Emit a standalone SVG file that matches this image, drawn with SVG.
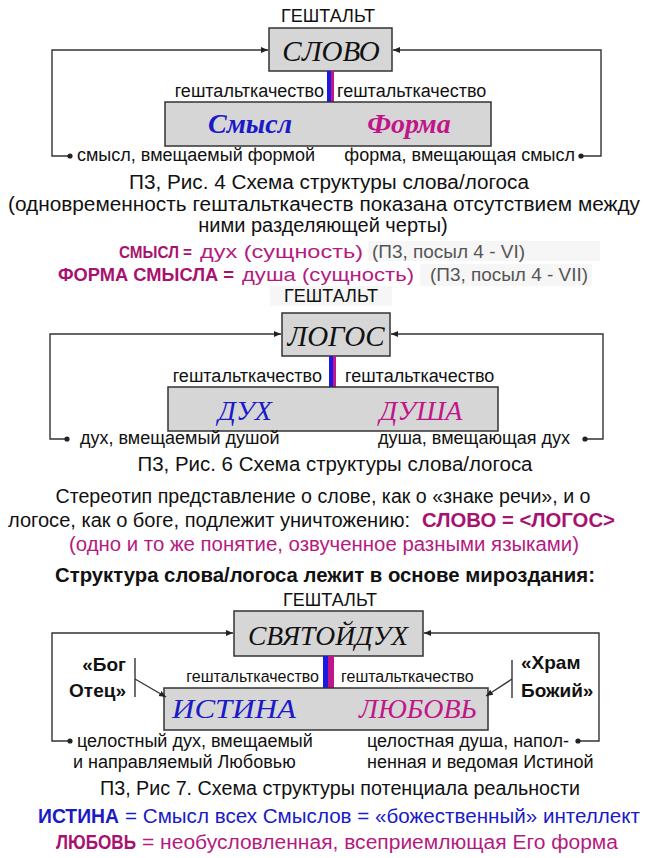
<svg xmlns="http://www.w3.org/2000/svg" width="645" height="858" viewBox="0 0 645 858">
<defs>
<marker id="arr" markerWidth="8" markerHeight="8" refX="7" refY="4" orient="auto" markerUnits="userSpaceOnUse">
<path d="M0,1 L7,4 L0,7 Z" fill="#222"/>
</marker>
<marker id="dot" markerWidth="6" markerHeight="6" refX="3" refY="3" markerUnits="userSpaceOnUse">
<circle cx="3" cy="3" r="2.6" fill="#222"/>
</marker>
</defs>
<style>
.t{font-family:"Liberation Sans",Arial,sans-serif;fill:#111;}
.lab{font-size:18px;}
.cap{font-size:20px;}
.box{fill:#d6d6d6;stroke:#333;stroke-width:1.5;}
.scr{font-family:"Liberation Serif","Times New Roman",serif;font-style:italic;}
.con{fill:none;stroke:#333;stroke-width:1.4;}
.blue{fill:#1a1ac8;}
.blueb{fill:#1a1ac8;font-weight:bold;}
.mag{fill:#c0168a;}
.magb{fill:#a8126f;font-weight:bold;}
.magt{fill:#b51a7f;}
.gray{fill:#555;}
.b{font-weight:bold;}
</style>
<rect width="645" height="858" fill="#fff"/>

<!-- Diagram 1 -->
<g id="gestalt1"><text class="t lab" x="328" y="22" text-anchor="middle">ГЕШТАЛЬТ</text></g>
<g id="node-slovo">
<rect class="box" x="269" y="28" width="123" height="43"/>
<text class="scr" x="331" y="61" font-size="29" text-anchor="middle" fill="#111">СЛОВО</text>
</g>
<g id="bar1"><rect x="327" y="71" width="4" height="31" fill="#1a1ae0"/><rect x="331" y="71" width="3" height="31" fill="#c0168a"/></g>
<g id="gk1">
<text class="t lab" x="324" y="97" text-anchor="end">гештальткачество</text>
<text class="t lab" x="337" y="97">гештальткачество</text>
</g>
<g id="node-smysl-forma">
<rect class="box" x="165" y="102" width="326" height="44"/>
<text class="scr blue b" x="250" y="133" font-size="28" text-anchor="middle">Смысл</text>
<text class="scr mag b" x="409" y="133" font-size="28" text-anchor="middle">Форма</text>
</g>
<g id="conn1-labels">
<text class="t" x="77" y="161" font-size="18" textLength="238" lengthAdjust="spacingAndGlyphs">смысл, вмещаемый формой</text>
<text class="t" x="575" y="161" font-size="18" text-anchor="end">форма, вмещающая смысл</text>
</g>
<g id="connectors1">
<path class="con" d="M70,156 H52 V50 H268" marker-start="url(#dot)" marker-end="url(#arr)"/>
<path class="con" d="M581,156 H601 V50 H393" marker-start="url(#dot)" marker-end="url(#arr)"/>
</g>

<!-- Captions 1 -->
<g id="caption1">
<text class="t cap" x="329" y="189" text-anchor="middle" textLength="400" lengthAdjust="spacingAndGlyphs">П3, Рис. 4 Схема структуры  слова/логоса</text>
<text class="t cap" x="8" y="211" textLength="632" lengthAdjust="spacingAndGlyphs">(одновременность  гештальткачеств   показана отсутствием  между</text>
<text class="t cap" x="323" y="232" text-anchor="middle">ними разделяющей  черты)</text>
<rect x="368" y="241" width="232" height="20" fill="#f6f6f6"/>
<text class="t magb" x="119" y="258" font-size="17" textLength="73" lengthAdjust="spacingAndGlyphs">СМЫСЛ =</text>
<text class="t magt" x="200" y="258" font-size="19" textLength="163" lengthAdjust="spacingAndGlyphs">дух (сущность)</text>
<text class="t gray" x="372" y="258" font-size="19" textLength="153" lengthAdjust="spacingAndGlyphs">(П3, посыл 4 - VI)</text>
<rect x="420" y="264" width="172" height="22" fill="#f6f6f6"/>
<text class="t magb" x="58" y="281" font-size="19" textLength="176" lengthAdjust="spacingAndGlyphs">ФОРМА СМЫСЛА  =</text>
<text class="t magt" x="242" y="281" font-size="19" textLength="172" lengthAdjust="spacingAndGlyphs">душа (сущность)</text>
<text class="t gray" x="430" y="281" font-size="19" textLength="158" lengthAdjust="spacingAndGlyphs">(П3, посыл 4 - VII)</text>
</g>

<!-- Diagram 2 -->
<g id="gestalt2"><rect x="270" y="286" width="122" height="20" fill="#f6f6f6"/><text class="t lab" x="331" y="302" text-anchor="middle">ГЕШТАЛЬТ</text></g>
<g id="node-logos">
<rect class="box" x="282" y="313" width="108" height="43"/>
<text class="scr" x="336" y="346" font-size="29" text-anchor="middle" fill="#111">ЛОГОС</text>
</g>
<g id="bar2"><rect x="329" y="356" width="4" height="31" fill="#1a1ae0"/><rect x="333" y="356" width="3" height="31" fill="#c0168a"/></g>
<g id="gk2">
<text class="t lab" x="322" y="382" text-anchor="end">гештальткачество</text>
<text class="t lab" x="345" y="382">гештальткачество</text>
</g>
<g id="node-duh-dusha">
<rect class="box" x="168" y="387" width="330" height="44"/>
<text class="scr blue" x="245" y="420" font-size="28" text-anchor="middle">ДУХ</text>
<text class="scr mag" x="421" y="420" font-size="28" text-anchor="middle">ДУША</text>
</g>
<g id="conn2-labels">
<text class="t" x="80" y="444" font-size="18">дух, вмещаемый  душой</text>
<text class="t" x="570" y="444" font-size="18" text-anchor="end">душа, вмещающая дух</text>
</g>
<g id="connectors2">
<path class="con" d="M67,439 H50 V334 H281" marker-start="url(#dot)" marker-end="url(#arr)"/>
<path class="con" d="M585,439 H603 V334 H391" marker-start="url(#dot)" marker-end="url(#arr)"/>
</g>
<g id="caption2">
<text class="t cap" x="335" y="471" text-anchor="middle" textLength="395" lengthAdjust="spacingAndGlyphs">П3, Рис. 6 Схема структуры  слова/логоса</text>
</g>

<!-- Middle text -->
<g id="text-mid">
<text class="t cap" x="323" y="503" text-anchor="middle" textLength="535" lengthAdjust="spacingAndGlyphs">Стереотип представление  о слове, как о «знаке речи»,  и о</text>
<text class="t cap" x="8" y="527" textLength="402" lengthAdjust="spacingAndGlyphs">логосе, как о боге, подлежит  уничтожению:</text>
<text class="t magb" x="422" y="527" font-size="20" textLength="193" lengthAdjust="spacingAndGlyphs">СЛОВО = &lt;ЛОГОС&gt;</text>
<text class="t magt" x="324" y="551" font-size="20" text-anchor="middle" textLength="510" lengthAdjust="spacingAndGlyphs">(одно и то же понятие,  озвученное  разными  языками)</text>
<text class="t b" x="325" y="582" font-size="20" text-anchor="middle" textLength="540" lengthAdjust="spacingAndGlyphs">Структура  слова/логоса  лежит в основе  мироздания:</text>
</g>

<!-- Diagram 3 -->
<g id="gestalt3"><text class="t lab" x="330" y="606" text-anchor="middle">ГЕШТАЛЬТ</text></g>
<g id="node-svyatoy-duh">
<rect class="box" x="234" y="611" width="189" height="45"/>
<text class="scr" x="328" y="645" font-size="27" text-anchor="middle" fill="#111" textLength="160" lengthAdjust="spacingAndGlyphs">СВЯТОЙДУХ</text>
</g>
<g id="bar3"><rect x="323" y="656" width="5" height="32" fill="#1a1ae0"/><rect x="328" y="656" width="6" height="32" fill="#c0168a"/></g>
<g id="gk3">
<text class="t" x="319" y="682" font-size="16" text-anchor="end">гештальткачество</text>
<text class="t" x="341" y="682" font-size="16">гештальткачество</text>
</g>
<g id="node-istina-lyubov">
<rect class="box" x="164" y="688" width="324" height="42"/>
<text class="scr blue" x="234" y="718" font-size="28" text-anchor="middle" textLength="124" lengthAdjust="spacingAndGlyphs">ИСТИНА</text>
<text class="scr mag" x="418" y="718" font-size="28" text-anchor="middle" textLength="118" lengthAdjust="spacingAndGlyphs">ЛЮБОВЬ</text>
</g>
<g id="node-bog-otec">
<text class="t b" x="126" y="671" font-size="19" text-anchor="end">«Бог</text>
<text class="t b" x="126" y="697" font-size="19" text-anchor="end">Отец»</text>
</g>
<g id="node-hram-bozhiy">
<text class="t b" x="521" y="669" font-size="19">«Храм</text>
<text class="t b" x="521" y="697" font-size="19">Божий»</text>
</g>
<g id="conn3-labels">
<text class="t" x="77" y="747" font-size="18">целостный дух, вмещаемый</text>
<text class="t" x="73" y="768" font-size="18">и направляемый Любовью</text>
<text class="t" x="367" y="747" font-size="18">целостная душа, напол-</text>
<text class="t" x="367" y="768" font-size="18">ненная и ведомая Истиной</text>
</g>
<g id="connectors3">
<path class="con" d="M70,741 H52 V633 H233" marker-start="url(#dot)" marker-end="url(#arr)"/>
<path class="con" d="M578,741 H599 V633 H424" marker-start="url(#dot)" marker-end="url(#arr)"/>
<path class="con" d="M135,658 V697"/>
<path class="con" d="M135,679 L166,697" marker-end="url(#arr)"/>
<path class="con" d="M512,660 V698"/>
<path class="con" d="M512,679 L486,696" marker-end="url(#arr)"/>
</g>

<!-- Bottom text -->
<g id="caption3">
<text class="t cap" x="340" y="795" text-anchor="middle" textLength="480" lengthAdjust="spacingAndGlyphs">П3, Рис 7. Схема структуры  потенциала  реальности</text>
<text class="t blueb" x="38" y="823" font-size="20" textLength="81" lengthAdjust="spacingAndGlyphs">ИСТИНА</text>
<text class="t blue" x="125" y="823" font-size="20" textLength="515" lengthAdjust="spacingAndGlyphs">= Смысл всех Смыслов = «божественный»  интеллект</text>
<text class="t magb" x="56" y="849" font-size="20" textLength="80" lengthAdjust="spacingAndGlyphs">ЛЮБОВЬ</text>
<text class="t magt" x="142" y="849" font-size="20" textLength="476" lengthAdjust="spacingAndGlyphs">= необусловленная,  всеприемлющая  Его форма</text>
</g>
</svg>
